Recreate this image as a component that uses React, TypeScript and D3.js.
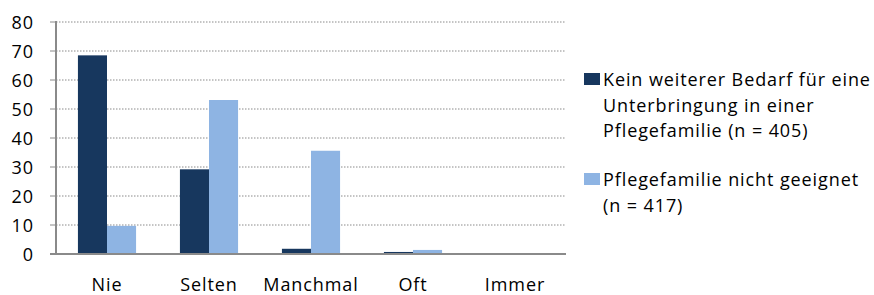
import * as d3 from "d3";
import React from "react";

const categories = ["Nie", "Selten", "Manchmal", "Oft", "Immer"];
const seriesNames = ["Kein weiterer Bedarf für eine Unterbringung in einer Pflegefamilie (n = 405)", "Pflegefamilie nicht geeignet (n = 417)"];
const keinBedarf = [68.5, 29.2, 1.8, 0.7, 0];
const nichtGeeignet = [9.7, 53.1, 35.6, 1.4, 0];
const yTickValues = [0, 10, 20, 30, 40, 50, 60, 70, 80];
const legendLines = [
  ["Kein weiterer Bedarf für eine", "Unterbringung in einer", "Pflegefamilie (n = 405)"],
  ["Pflegefamilie nicht geeignet", "(n = 417)"],
];
const colors = ["#17375e", "#8eb4e3"];

export default function App() {
  const width = 874;
  const height = 295;
  const left = 56;
  const right = 566;
  const top = 22;
  const bottom = 254;
  const font = "'Open Sans', sans-serif";
  const fs = 18;
  const ls = 0.9;

  const x = d3.scaleBand().domain(categories).range([left, right]).paddingInner(0.43).paddingOuter(0.215);
  const x1 = d3.scaleBand().domain(["0", "1"]).range([0, x.bandwidth()]);
  const y = d3.scaleLinear().domain([0, 80]).range([bottom, top]);
  const series = [keinBedarf, nichtGeeignet];

  return (
    <svg width={width} height={height} style={{ position: "absolute", left: 0, top: 0, background: "#fff" }} fontFamily={font}>
      {yTickValues.map((t) => (
        <g key={t}>
          {t > 0 && (
            <line x1={left} x2={right} y1={y(t)} y2={y(t)} stroke="#8a8a8a" strokeWidth={1} strokeDasharray="1.5 1.5" />
          )}
          <line x1={left - 6} x2={left} y1={y(t)} y2={y(t)} stroke="#8a8a8a" strokeWidth={1} />
          <text x={34} y={y(t)} textAnchor="end" dominantBaseline="central" fontSize={fs} letterSpacing={ls} fill="#000">
            {t}
          </text>
        </g>
      ))}
      {series.map((vals, i) => (
        <g key={i} fill={colors[i]}>
          {vals.map((v, j) => (
            <rect key={j} x={(x(categories[j]) ?? 0) + (x1(String(i)) ?? 0)} y={y(v)} width={x1.bandwidth()} height={bottom - y(v)} />
          ))}
        </g>
      ))}
      <line x1={left} x2={left} y1={top - 1} y2={bottom} stroke="#8a8a8a" strokeWidth={2} />
      <line x1={left - 6} x2={right} y1={bottom} y2={bottom} stroke="#8a8a8a" strokeWidth={2} />
      {categories.map((c) => (
        <text key={c} x={(x(c) ?? 0) + x.bandwidth() / 2} y={284} textAnchor="middle" dominantBaseline="central" fontSize={fs} letterSpacing={ls}>
          {c}
        </text>
      ))}
      {legendLines.map((lines, i) => {
        const y0 = i === 0 ? 79 : 179;
        return (
          <g key={i}>
            <title>{seriesNames[i]}</title>
            <rect x={584} y={y0 - 6} width={16} height={12} fill={colors[i]} />
            {lines.map((l, k) => (
              <text key={k} x={603} y={y0 + k * 25.5} dominantBaseline="central" fontSize={fs} letterSpacing={ls}>
                {l}
              </text>
            ))}
          </g>
        );
      })}
    </svg>
  );
}
